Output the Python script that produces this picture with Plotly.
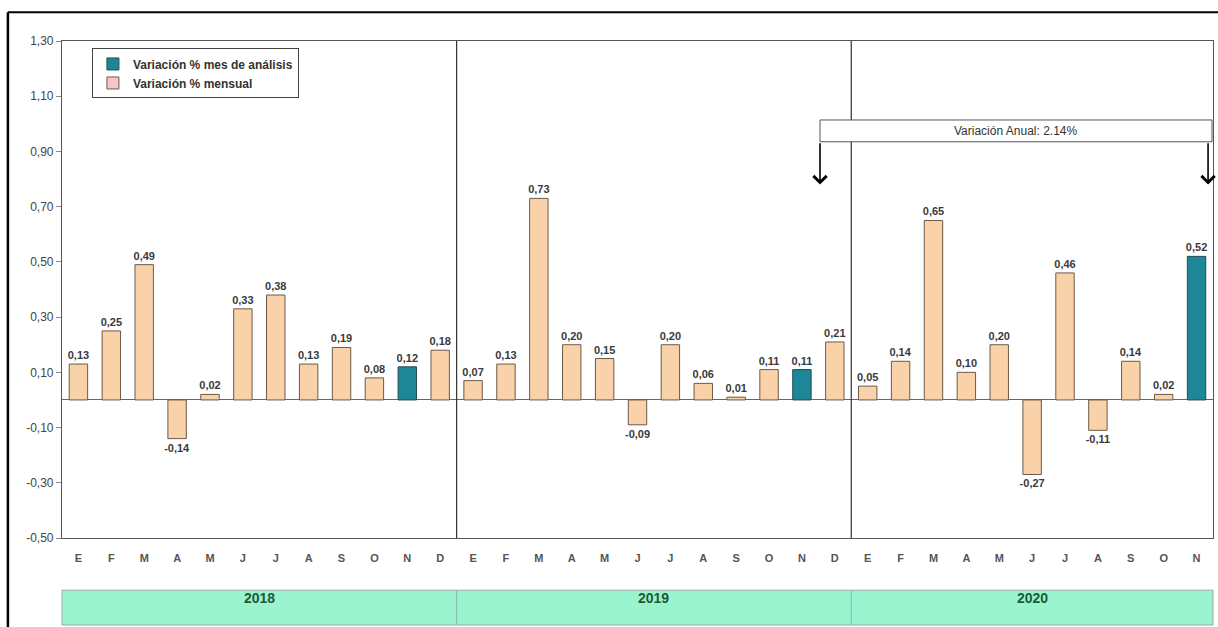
import plotly.graph_objects as go

months_2018 = ["E", "F", "M", "A", "M", "J", "J", "A", "S", "O", "N", "D"]
months_2019 = ["E", "F", "M", "A", "M", "J", "J", "A", "S", "O", "N", "D"]
months_2020 = ["E", "F", "M", "A", "M", "J", "J", "A", "S", "O", "N"]
vals_2018 = [0.13, 0.25, 0.49, -0.14, 0.02, 0.33, 0.38, 0.13, 0.19, 0.08, 0.12, 0.18]
vals_2019 = [0.07, 0.13, 0.73, 0.20, 0.15, -0.09, 0.20, 0.06, 0.01, 0.11, 0.11, 0.21]
vals_2020 = [0.05, 0.14, 0.65, 0.10, 0.20, -0.27, 0.46, -0.11, 0.14, 0.02, 0.52]
years = ["2018", "2019", "2020"]
annual_text = "Variación Anual: 2.14%"
y_ticks = [-0.5, -0.3, -0.1, 0.1, 0.3, 0.5, 0.7, 0.9, 1.1, 1.3]

labels = months_2018 + months_2019 + months_2020
values = vals_2018 + vals_2019 + vals_2020
xs = list(range(len(values)))
month_idx = list(range(12)) + list(range(12)) + list(range(11))
is_hl = [m == 10 for m in month_idx]  # November = month of analysis

PEACH = "#FAD2AA"
TEAL = "#1D8797"
FONT = "Liberation Sans, Arial"

fig = go.Figure()

def fmt(v):
    return f"{v:.2f}".replace(".", ",")

xm = [x for x, h in zip(xs, is_hl) if not h]
ym = [v for v, h in zip(values, is_hl) if not h]
xh = [x for x, h in zip(xs, is_hl) if h]
yh = [v for v, h in zip(values, is_hl) if h]

fig.add_trace(go.Bar(x=xm, y=ym, text=[f"<b>{fmt(v)}</b>" for v in ym], textposition="outside",
                     constraintext="none",
                     marker=dict(color=PEACH, line=dict(color="#6b5a48", width=1)),
                     width=0.56, showlegend=False, cliponaxis=False,
                     textfont=dict(family=FONT, size=11, color="#3a3a3a")))
fig.add_trace(go.Bar(x=xh, y=yh, text=[f"<b>{fmt(v)}</b>" for v in yh], textposition="outside",
                     constraintext="none",
                     marker=dict(color=TEAL, line=dict(color="#2a4a55", width=1)),
                     width=0.56, showlegend=False, cliponaxis=False,
                     textfont=dict(family=FONT, size=11, color="#3a3a3a")))
# legend entries
fig.add_trace(go.Bar(x=[None], y=[None], name="<b>Variación % mes de análisis</b>",
                     marker=dict(color=TEAL, line=dict(color="#2a4a55", width=1))))
fig.add_trace(go.Bar(x=[None], y=[None], name="<b>Variación % mensual</b>",
                     marker=dict(color="#F9C3CC", line=dict(color="#6b5a48", width=1))))

n = len(values)
shapes = []
seps = [len(vals_2018) - 0.5, len(vals_2018) + len(vals_2019) - 0.5]
for s in seps:
    shapes.append(dict(type="line", xref="x", yref="y", x0=s, x1=s, y0=-0.5, y1=1.3,
                       line=dict(color="#333333", width=1.2)))
band_y0, band_y1 = -0.175, -0.105
shapes.append(dict(type="rect", xref="paper", yref="paper", x0=0, x1=1, y0=band_y0, y1=band_y1,
                   fillcolor="#9BF4D0", line=dict(color="#9aa9a2", width=1), layer="below"))
for s in seps:
    shapes.append(dict(type="line", xref="x", yref="paper", x0=s, x1=s, y0=band_y0, y1=band_y1,
                       line=dict(color="#8fb8a8", width=1)))
shapes.append(dict(type="line", xref="paper", yref="paper", x0=-0.047, x1=1.01, y0=1.058, y1=1.058,
                   line=dict(color="black", width=2)))
shapes.append(dict(type="line", xref="paper", yref="paper", x0=-0.047, x1=-0.047, y0=1.058, y1=-0.2,
                   line=dict(color="black", width=2.5)))
shapes.append(dict(type="rect", xref="x", yref="y", x0=22.55, x1=34.47, y0=0.935, y1=1.014,
                   line=dict(color="#555555", width=1), fillcolor="white"))

annotations = []
year_centers = [(len(vals_2018) - 1) / 2,
                len(vals_2018) + (len(vals_2019) - 1) / 2,
                (seps[1] + n - 0.5) / 2]
for yr, c in zip(years, year_centers):
    annotations.append(dict(x=c, y=(band_y0 + band_y1) / 2, xref="x", yref="paper", text=f"<b>{yr}</b>",
                            showarrow=False, font=dict(family=FONT, size=14, color="#1E5A35")))
annotations.append(dict(x=(22.55 + 34.47) / 2, y=0.975, xref="x", yref="y", text=annual_text,
                        showarrow=False, font=dict(family=FONT, size=12, color="#333333")))
for ax_x in [22.55, 34.35]:
    annotations.append(dict(x=ax_x, y=0.78, ax=ax_x, ay=0.935, xref="x", yref="y", axref="x", ayref="y",
                            text="", showarrow=True, arrowhead=4, arrowsize=1.6, arrowwidth=1.6,
                            arrowcolor="black"))

fig.update_layout(
    width=1218, height=627,
    margin=dict(l=62, r=5, t=41, b=89),
    paper_bgcolor="white", plot_bgcolor="white",
    separators=",.",
    barmode="overlay",
    shapes=shapes, annotations=annotations,
    legend=dict(x=0.026, y=0.985, xanchor="left", yanchor="top",
                bordercolor="#444444", borderwidth=1, bgcolor="white",
                font=dict(family=FONT, size=12, color="#333333"),
                itemwidth=30, tracegroupgap=0),
    font=dict(family=FONT),
)
fig.update_xaxes(range=[-0.5, n - 0.5], tickmode="array", tickvals=xs,
                 ticktext=[f"<b>{t}</b>" for t in labels],
                 showline=True, mirror=True, linecolor="#555555", linewidth=1.2,
                 showgrid=False, zeroline=False, ticks="", ticklabelstandoff=10,
                 tickfont=dict(family=FONT, size=11, color="#555555"))
fig.update_yaxes(range=[-0.5, 1.3], tickmode="array", tickvals=y_ticks,
                 ticktext=[fmt(v) for v in y_ticks],
                 showline=True, mirror=True, linecolor="#555555", linewidth=1.2,
                 showgrid=False, zeroline=True, zerolinecolor="#666666", zerolinewidth=1,
                 ticks="outside", ticklen=5, tickcolor="#888888",
                 tickfont=dict(family=FONT, size=12, color="#444444"))

fig.write_html("out.html")
